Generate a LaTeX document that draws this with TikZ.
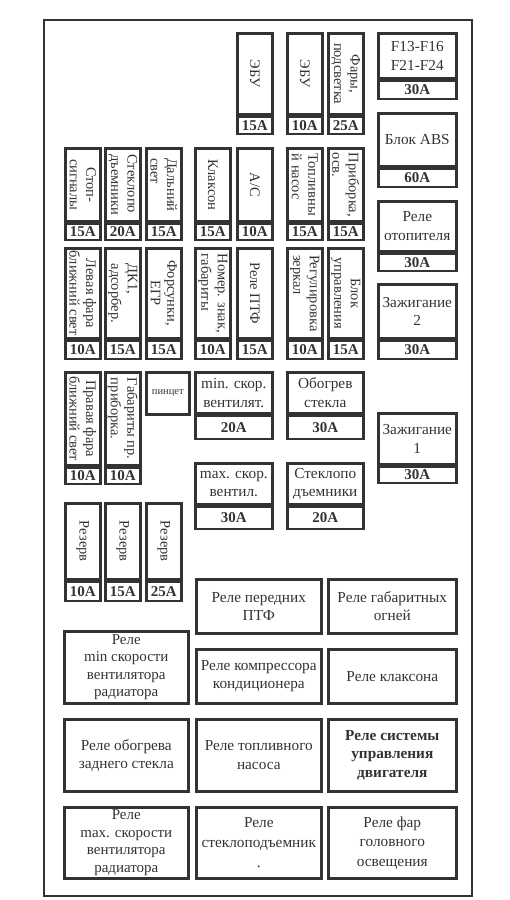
\documentclass[tikz,border=0pt]{standalone}
\usepackage{fontspec}
\setmainfont{Liberation Serif}
\usetikzlibrary{positioning}
\definecolor{fbInk}{HTML}{333333}
\newcommand{\cellfont}{\fontsize{15.3}{18.5}\selectfont}
\newcommand{\tightfont}{\fontsize{15}{17.5}\selectfont}
\newcommand{\sidefont}{\fontsize{14.5}{16.5}\selectfont}
\newcommand{\ampfont}{\bfseries\fontsize{15}{15}\selectfont}
% narrow fuse: [text opts]{name}{x}{y}{body h}{amp h}{text}{amps}
\newcommand{\vfuse}[8][]{%
  \node[fbox,minimum width=35pt,minimum height=#5pt] (#2) at (#3,#4) {};
  \node[fbox,anchor=north,minimum width=35pt,minimum height=#6pt,font=\ampfont] (#2a) at (#2.south) {#8};
  \node[rotate=-90,align=center,font=\sidefont,text=fbInk,#1] (#2t) at (#2.center) {#7};}
% wide fuse: {name}{x}{y}{w}{body h}{amp h}{text}{amps}
\newcommand{\hfuse}[8]{%
  \node[fbox,minimum width=#4pt,minimum height=#5pt,align=center,font=\cellfont] (#1) at (#2,#3) {#7};
  \node[fbox,anchor=north,minimum width=#4pt,minimum height=#6pt,font=\ampfont] (#1a) at (#1.south) {#8};}
\tikzset{
  fbox/.style={draw=fbInk,line width=2.6pt,inner sep=0pt,anchor=north west,text=fbInk},
  relay/.style={fbox,align=center,font=\cellfont},
}

\begin{document}
\begin{tikzpicture}[x=1pt,y=-1pt]
  \useasboundingbox (0,0) rectangle (510,900);
  \node[draw=fbInk,line width=2.2pt,inner sep=0pt,anchor=north west,minimum width=428pt,minimum height=876pt] (frame) at (43,19) {};

  % top row
  \vfuse{ebuA}{236}{32}{81}{17}{ЭБУ}{15A}
  \vfuse{ebuB}{286}{32}{81}{17}{ЭБУ}{10A}
  \vfuse{fary}{327}{32}{81}{17}{Фары,\\подсветка}{25A}

  % second row
  \vfuse{stop}{64}{147}{73}{16}{Стоп-\\сигналы}{15A}
  \vfuse[align=left]{steklA}{104}{147}{73}{16}{Стеклопо\\дъемники}{20A}
  \vfuse[align=left]{dalny}{145}{147}{73}{16}{Дальний\\свет}{15A}
  \vfuse{klakson}{194}{147}{73}{16}{Клаксон}{15A}
  \vfuse{ac}{236}{147}{73}{16}{A/C}{10A}
  \vfuse[align=left]{toplivo}{286}{147}{73}{16}{Топливны\\й насос}{15A}
  \vfuse[align=left]{pribor}{327}{147}{73}{16}{Приборка,\\осв.}{15A}

  % third row
  \vfuse{levfara}{64}{247}{90}{18}{Левая фара\\ближний свет}{10A}
  \vfuse[align=left]{dk}{104}{247}{90}{18}{ДК1,\\адсорбер.}{15A}
  \vfuse{forsunki}{145}{247}{90}{18}{Форсунки,\\ЕГР}{15A}
  \vfuse[align=left]{nomer}{194}{247}{90}{18}{Номер. знак,\\габариты}{10A}
  \vfuse{ptf}{236}{247}{90}{18}{Реле ПТФ}{15A}
  \vfuse[align=left]{zerkal}{286}{247}{90}{18}{Регулировка\\зеркал}{10A}
  \vfuse{blok}{327}{247}{90}{18}{Блок\\управления}{15A}

  % fourth row
  \vfuse{pravfara}{64}{371}{93}{16}{Правая фара\\ближний свет}{10A}
  \vfuse[align=left]{gabpr}{104}{371}{93}{16}{Габариты пр.\\приборка.}{10A}
  \node[fbox,minimum width=43pt,minimum height=42pt,font=\fontsize{10.5}{10.5}\selectfont] (pincet) at (145,371) {пинцет};
  \hfuse{minvent}{194}{371}{77}{41}{23}{min. скор.\\вентилят.}{20A}
  \hfuse{obogrev}{286}{371}{76}{41}{23}{Обогрев\\стекла}{30A}
  \hfuse{maxvent}{194}{462}{77}{41}{22}{max. скор.\\вентил.}{30A}
  \hfuse{steklB}{286}{462}{76}{41}{22}{Стеклопо\\дъемники}{20A}

  % spare fuses
  \vfuse{rezA}{64}{502}{76}{19}{Резерв}{10A}
  \vfuse{rezB}{104}{502}{76}{19}{Резерв}{15A}
  \vfuse{rezC}{145}{502}{76}{19}{Резерв}{25A}

  % right column
  \hfuse{fgroup}{377}{32}{78}{45}{18}{F13-F16\\F21-F24}{30A}
  \hfuse{abs}{377}{112}{78}{53}{18}{Блок ABS}{60A}
  \hfuse{otopitel}{377}{200}{78}{50}{17}{Реле\\отопителя}{30A}
  \hfuse{zazhB}{377}{283}{78}{54}{18}{Зажигание\\2}{30A}
  \hfuse{zazhA}{377}{412}{78}{51}{16}{Зажигание\\1}{30A}

  % relays
  \node[relay,minimum width=125pt,minimum height=54pt] (rPtf) at (195,578) {Реле передних\\ПТФ};
  \node[relay,minimum width=128pt,minimum height=54pt] (rGab) at (327,578) {Реле габаритных\\огней};
  \node[relay,minimum width=124pt,minimum height=72pt,font=\tightfont] (rMin) at (63,630) {Реле\\min скорости\\вентилятора\\радиатора};
  \node[relay,minimum width=125pt,minimum height=54pt] (rKomp) at (195,648) {Реле компрессора\\кондиционера};
  \node[relay,minimum width=128pt,minimum height=54pt] (rKlak) at (327,648) {Реле клаксона};
  \node[relay,minimum width=124pt,minimum height=72pt] (rObog) at (63,718) {Реле обогрева\\заднего стекла};
  \node[relay,minimum width=125pt,minimum height=72pt] (rTopl) at (195,718) {Реле топливного\\насоса};
  \node[relay,minimum width=128pt,minimum height=72pt,font=\cellfont\bfseries] (rDvig) at (327,718) {Реле системы\\управления\\двигателя};
  \node[relay,minimum width=124pt,minimum height=71pt,font=\tightfont] (rMax) at (63,806) {Реле\\max. скорости\\вентилятора\\радиатора};
  \node[relay,minimum width=125pt,minimum height=71pt,font=\fontsize{15.3}{20}\selectfont] (rStekl) at (195,806) {Реле\\стеклоподъемник\\.};
  \node[relay,minimum width=128pt,minimum height=71pt,font=\fontsize{15.3}{19.5}\selectfont] (rFar) at (327,806) {Реле фар\\головного\\освещения};
\end{tikzpicture}
\end{document}
